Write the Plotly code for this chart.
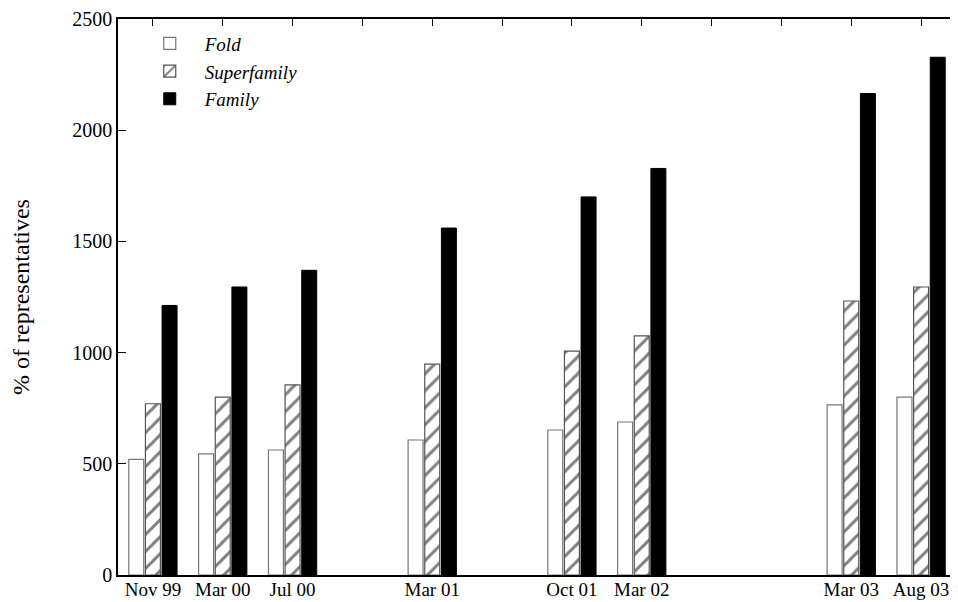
import plotly.graph_objects as go

# Category slots (blank slots are empty time periods on the x axis)
slots = ["Nov 99", "Mar 00", "Jul 00", " ", "Mar 01", "  ", "Oct 01", "Mar 02", "   ", "    ", "Mar 03", "Aug 03"]
fold = [520, 545, 562, None, 607, None, 652, 688, None, None, 765, 800]
superfamily = [770, 800, 855, None, 948, None, 1007, 1075, None, None, 1232, 1295]
family = [1212, 1295, 1370, None, 1560, None, 1700, 1828, None, None, 2165, 2328]
y_ticks = [0, 500, 1000, 1500, 2000, 2500]

serif = "Liberation Serif, Times New Roman, serif"

fig = go.Figure()
fig.add_trace(go.Bar(
    x=slots, y=fold, name="Fold",
    marker=dict(color="white", line=dict(color="#777777", width=1.2)),
))
fig.add_trace(go.Bar(
    x=slots, y=superfamily, name="Superfamily",
    marker=dict(color="white", line=dict(color="#555555", width=1.2),
                pattern=dict(shape="/", fgcolor="black", bgcolor="white", size=12, solidity=0.25)),
))
fig.add_trace(go.Bar(
    x=slots, y=family, name="Family",
    marker=dict(color="black", line=dict(color="black", width=1)),
))
# helper trace so the mirrored top axis (with inward ticks) is drawn
fig.add_trace(go.Scatter(x=slots, y=[None] * len(slots), xaxis="x2", showlegend=False,
                         hoverinfo="skip", mode="markers"))

fig.update_layout(
    width=950, height=594,
    margin=dict(l=110, r=2, t=11, b=27),
    paper_bgcolor="white", plot_bgcolor="white",
    barmode="group", bargap=0.285, bargroupgap=0.1,
    font=dict(family=serif, size=20, color="black"),
    showlegend=True,
    legend=dict(x=0.02, y=0.99, xanchor="left", yanchor="top",
                font=dict(family=serif, size=19, style="italic"),
                bgcolor="rgba(0,0,0,0)", tracegroupgap=0, itemwidth=60),
    xaxis=dict(type="category", categoryorder="array", categoryarray=slots,
               range=[-0.5, 11.5], showline=True, linecolor="black", linewidth=1.5,
               mirror=True, ticks="", showgrid=False, automargin=False,
               ticklabelstandoff=-4,
               tickfont=dict(family=serif, size=19)),
    xaxis2=dict(type="category", categoryorder="array", categoryarray=slots,
                overlaying="x", side="top", range=[-0.5, 11.5],
                ticks="inside", ticklen=7, tickcolor="black", tickwidth=1,
                showticklabels=False, showgrid=False, showline=False),
    yaxis=dict(range=[0, 2500], tickvals=y_ticks, ticks="inside", ticklen=8,
               tickcolor="black", showline=True, linecolor="black", linewidth=1.5,
               mirror=True, showgrid=False, zeroline=False, automargin=False,
               tickfont=dict(family=serif, size=20),
               title=dict(text="% of representatives", font=dict(family=serif, size=24), standoff=36)),
)

fig.write_html("out.html")
